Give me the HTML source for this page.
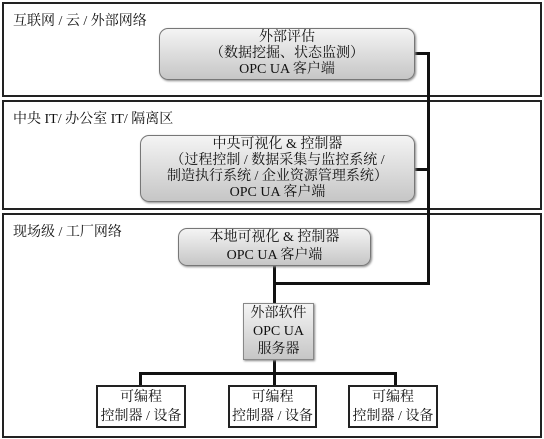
<!DOCTYPE html>
<html><head><meta charset="utf-8"><style>
body{margin:0;width:544px;height:439px;background:#fff;position:relative;overflow:hidden;font-family:"Liberation Serif","Noto Serif CJK SC","Noto Sans CJK SC",serif;color:#111}
.z{position:absolute;border:2px solid #222;box-sizing:border-box}
.zl{position:absolute;font-size:14px;left:9px;top:6px}
.b{position:absolute;box-sizing:border-box;border:1px solid #777;text-align:center;font-size:14px;line-height:16px;background:linear-gradient(#f4f4f4,#c6c6c6);display:flex;flex-direction:column;justify-content:center;box-shadow:1px 1px 2px #888}
.r{border-radius:9px}
.w{background:#fff;border:2px solid #222;box-shadow:none}
.l{position:absolute;background:#111}
</style></head><body>
<div class="z" style="left:2px;top:2px;width:540px;height:95px"><div class="zl">互联网 / 云 / 外部网络</div></div>
<div class="z" style="left:2px;top:100px;width:540px;height:110px"><div class="zl">中央 IT/ 办公室 IT/ 隔离区</div></div>
<div class="z" style="left:2px;top:213px;width:540px;height:225px"><div class="zl" style="top:6px">现场级 / 工厂网络</div></div>

<div class="l" style="left:415px;top:52px;width:15px;height:3px"></div>
<div class="l" style="left:415px;top:168px;width:15px;height:3px"></div>
<div class="l" style="left:427px;top:52px;width:3px;height:233px"></div>
<div class="l" style="left:273px;top:282px;width:157px;height:3px"></div>
<div class="l" style="left:273px;top:266px;width:3px;height:38px"></div>
<div class="l" style="left:273px;top:360px;width:3px;height:14px"></div>
<div class="l" style="left:139px;top:372px;width:258px;height:3px"></div>
<div class="l" style="left:139px;top:372px;width:3px;height:14px"></div>
<div class="l" style="left:273px;top:372px;width:3px;height:14px"></div>
<div class="l" style="left:394px;top:372px;width:3px;height:14px"></div>

<div class="b r" style="left:159px;top:28px;width:256px;height:52px">外部评估<br>（数据挖掘、状态监测）<br>OPC UA 客户端</div>
<div class="b r" style="left:140px;top:135px;width:275px;height:67px">中央可视化 &amp; 控制器<br>（过程控制 / 数据采集与监控系统 /<br>制造执行系统 / 企业资源管理系统）<br>OPC UA 客户端</div>
<div class="b r" style="left:178px;top:228px;width:193px;height:38px;line-height:18px">本地可视化 &amp; 控制器<br>OPC UA 客户端</div>
<div class="b" style="left:243px;top:303px;width:71px;height:57px;line-height:18px;border-color:#888">外部软件<br>OPC UA<br>服务器</div>
<div class="b w" style="left:96px;top:385px;width:90px;height:43px;line-height:19px">可编程<br>控制器 / 设备</div>
<div class="b w" style="left:228px;top:385px;width:89px;height:43px;line-height:19px">可编程<br>控制器 / 设备</div>
<div class="b w" style="left:348px;top:385px;width:90px;height:43px;line-height:19px">可编程<br>控制器 / 设备</div>
</body></html>
